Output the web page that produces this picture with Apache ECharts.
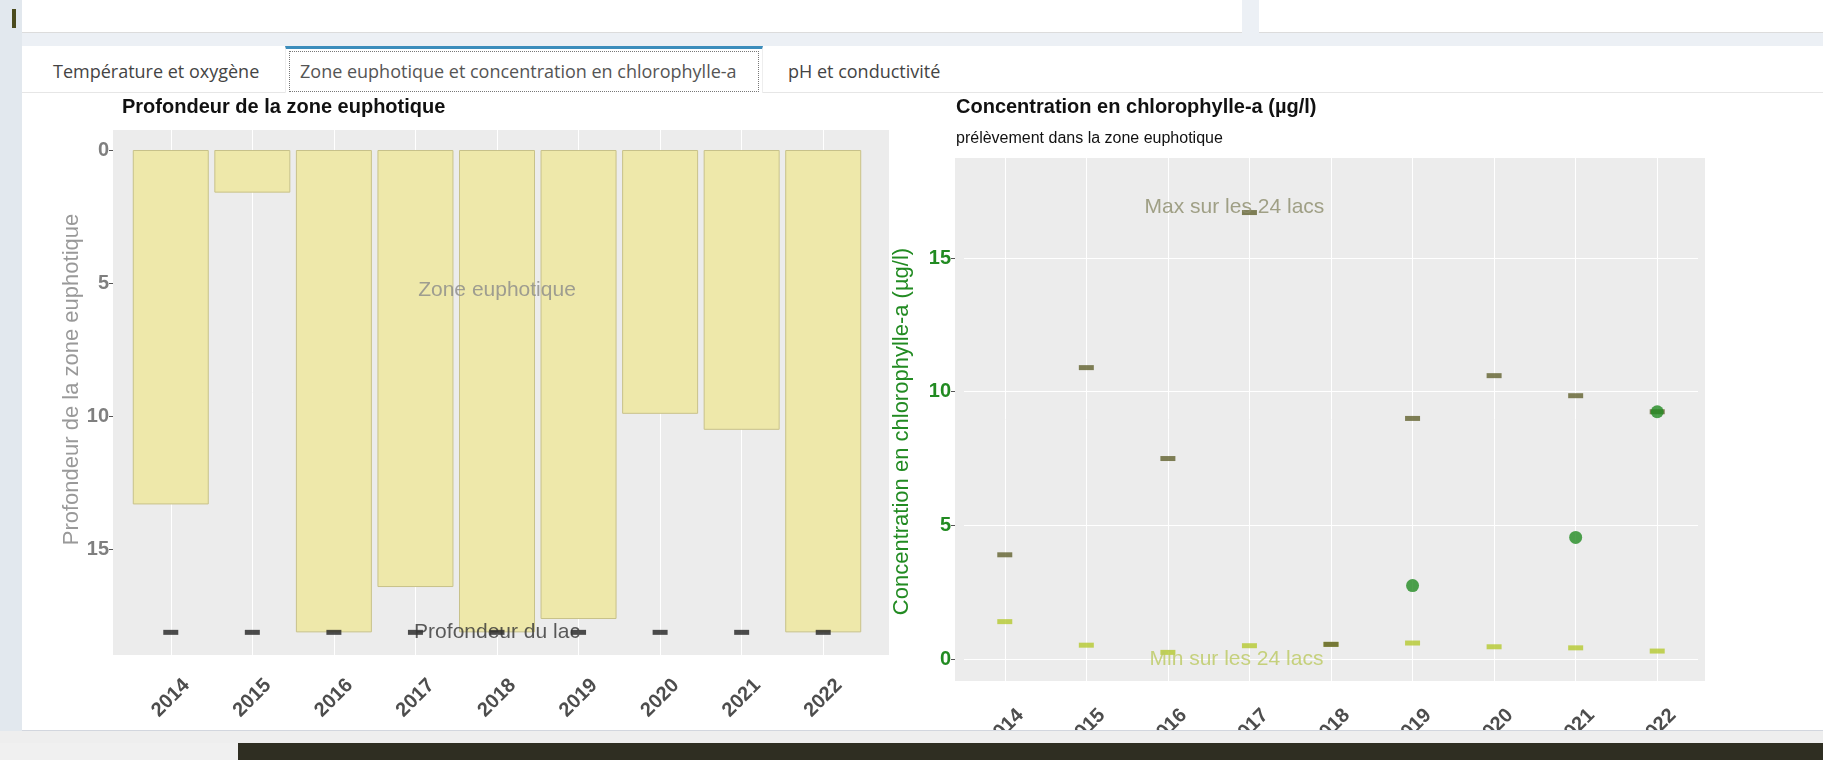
<!DOCTYPE html>
<html>
<head>
<meta charset="utf-8">
<script src="https://cdn.jsdelivr.net/npm/echarts@6/dist/echarts.min.js"></script>
<style>
body{margin:0;width:1823px;height:760px;background:#ecf0f5;position:relative;overflow:hidden;font-family:'Open Sans',sans-serif}
.abs{position:absolute}
.tab{position:absolute;top:60px;font-size:18px;line-height:22px;color:#444;white-space:nowrap}
</style>
</head>
<body>
<!-- page chrome -->
<div class="abs" style="left:0;top:0;width:22px;height:743px;background:#e2e8ee"></div>
<div class="abs" style="left:12px;top:9px;width:4px;height:19px;background:#4b4b1e"></div>
<div class="abs" style="left:22px;top:0;width:1220px;height:32px;background:#fff;border-bottom:1px solid #dcdcdc"></div>
<div class="abs" style="left:1259px;top:0;width:564px;height:32px;background:#fff;border-bottom:1px solid #dcdcdc"></div>
<div class="abs" style="left:22px;top:46px;width:1801px;height:684px;background:#fff;border-bottom:1px solid #d2d6de"></div>
<div class="abs" style="left:22px;top:92px;width:1801px;height:1px;background:#e6e6e6"></div>
<div class="abs" style="left:285px;top:46px;width:476px;height:44px;border-top:3px solid #3c8dbc;border-left:1px solid #eee;border-right:1px solid #eee;background:#fff"></div>
<div class="abs" style="left:289px;top:51px;width:468px;height:39px;border:1px dotted #777"></div>
<div class="tab" style="left:53px">Température et oxygène</div>
<div class="tab" style="left:300px;color:#555">Zone euphotique et concentration en chlorophylle-a</div>
<div class="tab" style="left:788px">pH et conductivité</div>
<!-- fonds gris des panneaux -->
<div class="abs" style="left:113px;top:130px;width:776px;height:525px;background:#ececec"></div>
<div class="abs" style="left:955px;top:158px;width:750px;height:523px;background:#ececec"></div>
<div id="chart" class="abs" style="left:0;top:0;width:1823px;height:730px"></div>
<div class="abs" style="left:0;top:731px;width:1823px;height:12px;background:#eeeeee"></div>
<div class="abs" style="left:0;top:743px;width:238px;height:17px;background:#f0f0f0"></div>
<div class="abs" style="left:238px;top:743px;width:1585px;height:17px;background:#2f2e22"></div>
<script type="text/javascript">
var years = ['2014', '2015', '2016', '2017', '2018', '2019', '2020', '2021', '2022'];
// profondeur (m)
var euphoticDepth = [13.3, 1.6, 18.1, 16.4, 18.1, 17.6, 9.9, 10.5, 18.1];
var lakeDepth = [18.1, 18.1, 18.1, 18.1, 18.1, 18.1, 18.1, 18.1, 18.1];
// chlorophylle-a (µg/l)
var chloroMax = [3.9, 10.9, 7.5, 16.7, 0.55, 9.0, 10.6, 9.85, 9.25];
var chloroMin = [1.4, 0.52, 0.25, 0.5, 0.55, 0.6, 0.46, 0.42, 0.3];
var chloroLake = [null, null, null, null, null, 2.75, null, 4.55, 9.25];
var depthTicks = [0, 5, 10, 15];
var chloroTicks = [0, 5, 10, 15];
// textes annotés : [texte, année, valeur]
var depthNotes = [['Zone euphotique', '2018', 5.25], ['Profondeur du lac', '2018', 18.1]];
var chloroNotes = [['Max sur les 24 lacs', '2017', 16.9], ['Min sur les 24 lacs', '2017', 0]];

var font = "'Liberation Sans', Arial, sans-serif";

function catAxis(grid, margin) {
    return {
        type: 'category', gridIndex: grid, data: years,
        axisLine: {show: false},
        axisTick: {show: true, alignWithLabel: true, length: 4, lineStyle: {color: '#555'}},
        axisLabel: {
            rotate: 45, align: 'center', verticalAlign: 'middle', margin: margin, interval: 0,
            fontFamily: font, fontSize: 20, fontWeight: 'bold', color: '#4d4d4d'
        },
        splitLine: {show: false}
    };
}

// lignes blanches du fond ggplot
function gridLines(hTicks) {
    var data = years.map(function (y) { return {xAxis: y}; });
    (hTicks || []).forEach(function (v) { data.push({yAxis: v}); });
    return {
        silent: true, symbol: ['none', 'none'], z: 1, animation: false,
        label: {show: false},
        lineStyle: {color: '#fff', width: 1, type: 'solid'},
        data: data
    };
}

function notes(list, xi, yi, color, dx) {
    return {
        type: 'scatter', xAxisIndex: xi, yAxisIndex: yi, z: 6, silent: true,
        symbolSize: 1, itemStyle: {color: 'rgba(0,0,0,0)'},
        label: {
            show: true, position: 'inside', formatter: '{b}', offset: [dx, 0],
            fontFamily: font, fontSize: 21, color: color
        },
        data: list.map(function (n) { return {name: n[0], value: [n[1], n[2]]}; })
    };
}

var myChart = echarts.init(document.getElementById('chart'));
var option = {
    backgroundColor: 'transparent',
    animation: false,
    title: [{
        text: 'Profondeur de la zone euphotique', left: 122, top: 97, padding: 0,
        textStyle: {fontFamily: font, fontSize: 20, fontWeight: 'bold', color: '#111'}
    }, {
        text: 'Concentration en chlorophylle-a (µg/l)', left: 956, top: 97, padding: 0,
        textStyle: {fontFamily: font, fontSize: 20, fontWeight: 'bold', color: '#111'}
    }, {
        text: 'prélèvement dans la zone euphotique', left: 956, top: 131, padding: 0,
        textStyle: {fontFamily: font, fontSize: 16, fontWeight: 'normal', color: '#111'}
    }],
    grid: [
        {left: 130, width: 734, top: 130, height: 525, outerBoundsMode: 'none'},
        {left: 964, width: 734, top: 158, height: 523, outerBoundsMode: 'none'}
    ],
    xAxis: [catAxis(0, 43), catAxis(1, 47)],
    yAxis: [{
        type: 'value', gridIndex: 0, inverse: true, min: -0.75, max: 18.95, offset: 17,
        axisLine: {show: false},
        axisTick: {show: true, length: 4, lineStyle: {color: '#555'}, customValues: depthTicks},
        axisLabel: {customValues: depthTicks, margin: 4, fontFamily: font, fontSize: 20, fontWeight: 'bold', color: '#7f7f7f'},
        splitLine: {show: false},
        name: 'Profondeur de la zone euphotique', nameLocation: 'middle', nameGap: 30,
        nameTextStyle: {fontFamily: font, fontSize: 22, color: '#999', padding: [0, 0, 0, 26]}
    }, {
        type: 'value', gridIndex: 1, min: -0.82, max: 18.74, offset: 9,
        axisLine: {show: false},
        axisTick: {show: true, length: 4, lineStyle: {color: '#555'}, customValues: chloroTicks},
        axisLabel: {customValues: chloroTicks, margin: 4, fontFamily: font, fontSize: 20, fontWeight: 'bold', color: '#228b22'},
        splitLine: {show: false},
        name: 'Concentration en chlorophylle-a (µg/l)', nameLocation: 'middle', nameGap: 42,
        nameTextStyle: {fontFamily: font, fontSize: 22, color: '#228b22', padding: [0, 24, 0, 0]}
    }],
    series: [{
        type: 'bar', name: 'Zone euphotique', xAxisIndex: 0, yAxisIndex: 0, z: 2,
        data: euphoticDepth, barWidth: 76,
        itemStyle: {color: '#eee8aa', borderColor: '#c8c28a', borderWidth: 1},
        markLine: gridLines()
    }, {
        type: 'scatter', name: 'Profondeur du lac', xAxisIndex: 0, yAxisIndex: 0, z: 4,
        data: lakeDepth, symbol: 'rect', symbolSize: [15, 5],
        itemStyle: {color: '#222'}
    },
    notes(depthNotes, 0, 0, '#333', 0),
    {
        type: 'scatter', name: 'Min', xAxisIndex: 1, yAxisIndex: 1, z: 3,
        data: chloroMin, symbol: 'rect', symbolSize: [15, 5],
        itemStyle: {color: '#b5c930'},
        markLine: gridLines(chloroTicks)
    }, {
        type: 'scatter', name: 'Max', xAxisIndex: 1, yAxisIndex: 1, z: 4,
        data: chloroMax, symbol: 'rect', symbolSize: [15, 5],
        itemStyle: {color: '#62622e'}
    }, {
        type: 'scatter', name: 'Lac', xAxisIndex: 1, yAxisIndex: 1, z: 5,
        data: chloroLake, symbol: 'circle', symbolSize: 13,
        itemStyle: {color: '#228b22'}
    },
    notes([chloroNotes[0]], 1, 1, '#8c8c6c', -15),
    notes([chloroNotes[1]], 1, 1, '#bcc960', -13)
    ]
};
// le texte "Zone euphotique" est gris, l'autre plus foncé
option.series[2].data[0].label = {color: '#8a8a8a'};
myChart.setOption(option);
</script>
</body>
</html>
